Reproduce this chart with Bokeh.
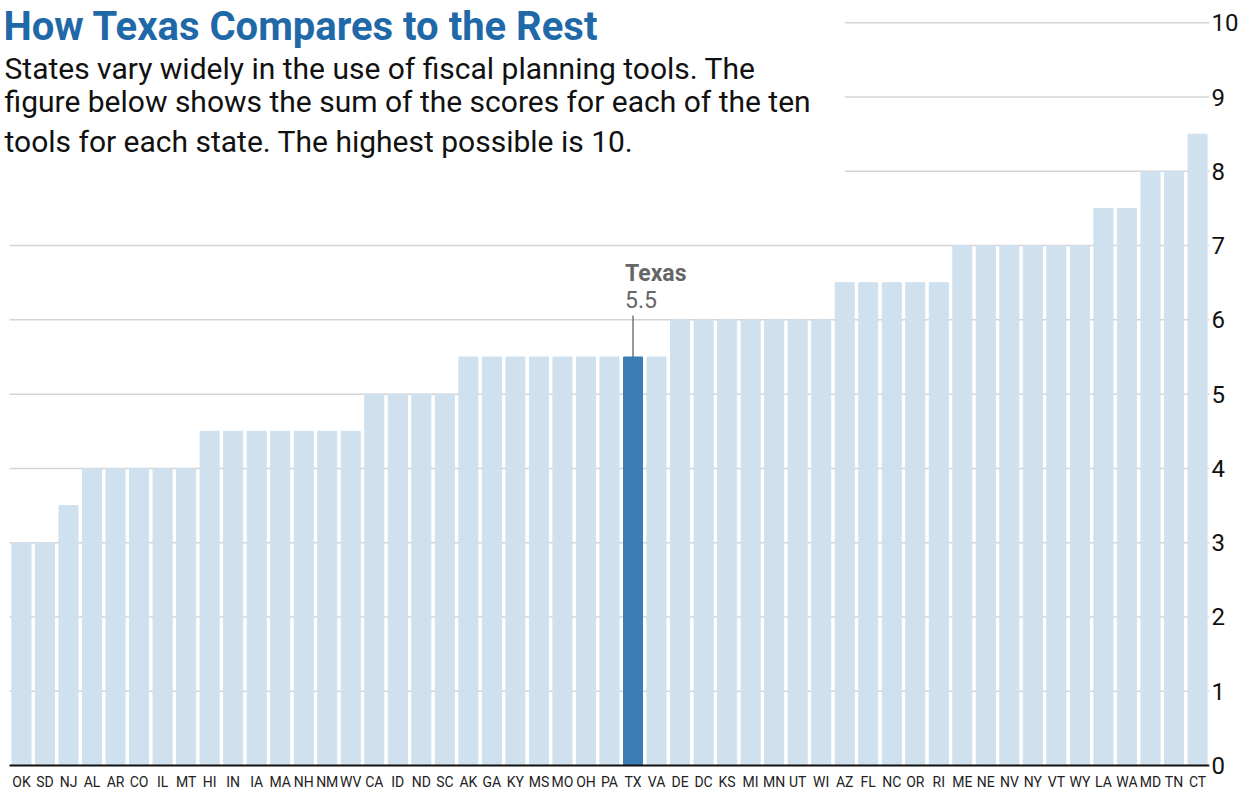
from bokeh.plotting import figure
from bokeh.models import Range1d, FixedTicker, Label, ColumnDataSource
from bokeh.embed import file_html
from bokeh.resources import INLINE
from bokeh.core.properties import value

# ---- data ----
states = ["OK", "SD", "NJ", "AL", "AR", "CO", "IL", "MT", "HI", "IN", "IA", "MA", "NH",
          "NM", "WV", "CA", "ID", "ND", "SC", "AK", "GA", "KY", "MS", "MO", "OH", "PA",
          "TX", "VA", "DE", "DC", "KS", "MI", "MN", "UT", "WI", "AZ", "FL", "NC", "OR",
          "RI", "ME", "NE", "NV", "NY", "VT", "WY", "LA", "WA", "MD", "TN", "CT"]
scores = [3, 3, 3.5, 4, 4, 4, 4, 4, 4.5, 4.5, 4.5, 4.5, 4.5,
          4.5, 4.5, 5, 5, 5, 5, 5.5, 5.5, 5.5, 5.5, 5.5, 5.5, 5.5,
          5.5, 5.5, 6, 6, 6, 6, 6, 6, 6, 6.5, 6.5, 6.5, 6.5,
          6.5, 7, 7, 7, 7, 7, 7, 7.5, 7.5, 8, 8, 8.5]
highlight = "TX"
y_ticks = [0, 1, 2, 3, 4, 5, 6, 7, 8, 9, 10]

title_text = "How Texas Compares to the Rest"
subtitle_lines = ["States vary widely in the use of fiscal planning tools.  The",
                  "figure below shows the sum of the scores for each of the ten",
                  "tools for each state.  The highest possible is 10."]

# ---- styling / layout ----
LIGHT = "#cfe0ee"
DARK = "#3b7db6"
GRID = "#d4d4d4"
FONT = "Roboto"
X_START, X_END = -0.891, 50.509
GRID_LEFT = -0.509
Y_START, Y_END = -0.35, 10.30
XLABEL_Y = -0.225
TEXT_RIGHT = 35.0   # gridlines above the text block start here
TEXT_TOP_TICK = 8   # ticks >= this are hidden behind the text block

idx = list(range(len(states)))
colors = [DARK if s == highlight else LIGHT for s in states]
src = ColumnDataSource(dict(x=idx, top=scores, color=colors, state=states,
                            ly=[XLABEL_Y] * len(states)))

p = figure(width=1241, height=791, x_range=Range1d(X_START, X_END),
           y_range=Range1d(Y_START, Y_END), output_backend="svg", toolbar_location=None,
           y_axis_location="right", min_border_left=0, min_border_top=0,
           min_border_right=29, min_border_bottom=0)
p.outline_line_color = None
p.xgrid.visible = False
p.ygrid.visible = False
p.xaxis.visible = False
p.background_fill_color = "white"
p.border_fill_color = "white"

# gridlines
gy = [t for t in y_ticks if t > 0]
gx0 = [TEXT_RIGHT if t >= TEXT_TOP_TICK else GRID_LEFT for t in gy]
p.segment(x0=gx0, y0=gy, x1=[X_END] * len(gy), y1=gy, line_color=GRID, line_width=1.5)

p.vbar(x="x", top="top", bottom=0, width=0.81, color="color", source=src)

# baseline
p.segment(x0=[GRID_LEFT], y0=[0], x1=[X_END], y1=[0], line_color="#111111", line_width=2)

# category labels
p.text(x="x", y="ly", text="state", source=src, text_font=value(FONT),
       text_font_size="14px", text_color="#222222", text_align="center",
       text_baseline="middle")

# y axis
ya = p.yaxis[0]
ya.ticker = FixedTicker(ticks=y_ticks)
ya.major_label_text_font = FONT
ya.major_label_text_font_size = "24px"
ya.major_label_text_color = "#111111"
ya.major_tick_line_color = None
ya.major_tick_out = 0
ya.major_tick_in = 0
ya.minor_tick_line_color = None
ya.minor_tick_out = 0
ya.minor_tick_in = 0
ya.axis_line_color = None
ya.major_label_standoff = 2

# title + subtitle
p.add_layout(Label(x=X_START, y=9.95, x_offset=3, text=title_text, text_font=FONT,
                   text_font_style="bold", text_font_size="40px", text_color="#1f69a8",
                   text_baseline="alphabetic"))
for line, yv in zip(subtitle_lines, [9.39, 8.94, 8.40]):
    p.add_layout(Label(x=X_START, y=yv, x_offset=4, text=line, text_font=FONT,
                       text_font_size="30px", text_color="#111111",
                       text_baseline="alphabetic"))

# Texas callout
ti = states.index(highlight)
tv = scores[ti]
p.segment(x0=[ti], y0=[tv], x1=[ti], y1=[tv + 0.56], line_color="#555555", line_width=1.2)
p.add_layout(Label(x=ti - 0.34, y=tv + 1.12, text="Texas", text_font=FONT,
                   text_font_style="bold", text_font_size="23px", text_color="#666666",
                   text_baseline="alphabetic"))
p.add_layout(Label(x=ti - 0.34, y=tv + 0.77, text=f"{tv}", text_font=FONT,
                   text_font_size="23px", text_color="#666666",
                   text_baseline="alphabetic"))

open("out.html", "w").write(file_html(p, INLINE))
